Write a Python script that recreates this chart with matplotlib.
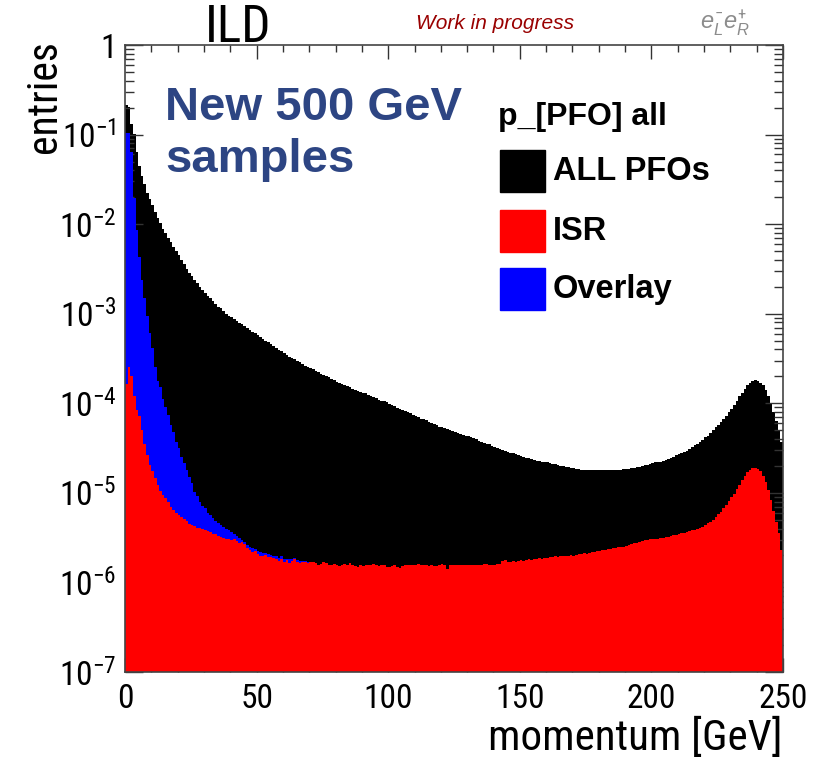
import numpy as np
import matplotlib
matplotlib.use("Agg")
import matplotlib.pyplot as plt
from matplotlib import font_manager
from matplotlib.patches import Rectangle
from matplotlib.ticker import FixedLocator, FuncFormatter, LogLocator, NullFormatter

# momentum binning: 250 bins of 1 GeV
edges = np.arange(0, 251, 1)

# log10(entries) per bin, all PFOs
all_pfo_log = [
    -0.67, -0.69, -0.88, -0.99, -1.19, -1.35, -1.46, -1.55, -1.65, -1.72,
    -1.79, -1.86, -1.93, -1.99, -2.05, -2.10, -2.15, -2.20, -2.25, -2.30,
    -2.35, -2.40, -2.45, -2.50, -2.54, -2.58, -2.62, -2.66, -2.70, -2.73,
    -2.77, -2.80, -2.83, -2.86, -2.89, -2.92, -2.94, -2.97, -3.00, -3.02,
    -3.04, -3.06, -3.08, -3.10, -3.12, -3.14, -3.16, -3.18, -3.20, -3.22,
    -3.24, -3.26, -3.28, -3.30, -3.32, -3.34, -3.36, -3.38, -3.40, -3.42,
    -3.44, -3.46, -3.48, -3.49, -3.51, -3.53, -3.54, -3.56, -3.58, -3.59,
    -3.61, -3.62, -3.64, -3.65, -3.67, -3.68, -3.70, -3.71, -3.73, -3.74,
    -3.76, -3.77, -3.79, -3.80, -3.81, -3.82, -3.84, -3.85, -3.86, -3.87,
    -3.88, -3.89, -3.91, -3.92, -3.93, -3.94, -3.96, -3.97, -3.98, -3.99,
    -4.01, -4.02, -4.03, -4.05, -4.06, -4.07, -4.09, -4.10, -4.11, -4.13,
    -4.14, -4.15, -4.17, -4.18, -4.19, -4.21, -4.22, -4.23, -4.24, -4.26,
    -4.27, -4.28, -4.29, -4.30, -4.31, -4.32, -4.33, -4.34, -4.35, -4.36,
    -4.37, -4.38, -4.39, -4.40, -4.42, -4.43, -4.44, -4.45, -4.46, -4.48,
    -4.49, -4.50, -4.51, -4.52, -4.53, -4.54, -4.55, -4.56, -4.57, -4.58,
    -4.59, -4.60, -4.61, -4.61, -4.62, -4.63, -4.64, -4.64, -4.65, -4.66,
    -4.66, -4.67, -4.68, -4.68, -4.69, -4.70, -4.70, -4.71, -4.71, -4.72,
    -4.72, -4.73, -4.73, -4.74, -4.74, -4.74, -4.75, -4.75, -4.75, -4.75,
    -4.75, -4.75, -4.75, -4.75, -4.74, -4.75, -4.74, -4.74, -4.74, -4.73,
    -4.73, -4.73, -4.72, -4.72, -4.71, -4.71, -4.70, -4.69, -4.69, -4.68,
    -4.67, -4.66, -4.66, -4.65, -4.64, -4.63, -4.62, -4.61, -4.60, -4.58,
    -4.57, -4.56, -4.54, -4.53, -4.51, -4.49, -4.47, -4.45, -4.43, -4.41,
    -4.38, -4.36, -4.33, -4.30, -4.27, -4.24, -4.21, -4.17, -4.14, -4.10,
    -4.06, -4.02, -3.97, -3.92, -3.88, -3.84, -3.80, -3.77, -3.75, -3.74,
    -3.75, -3.77, -3.80, -3.85, -3.92, -4.00, -4.10, -4.20, -4.31, -4.43,
]

# overlay only matters at low momentum, above that it sits under the ISR fill
overlay_log = [
    -0.98, -0.98, -1.19, -1.71, -2.06, -2.37, -2.62, -2.83, -3.02, -3.21,
    -3.38, -3.60, -3.75, -3.82, -3.95, -4.04, -4.13, -4.24, -4.32, -4.43,
    -4.50, -4.60, -4.67, -4.74, -4.82, -4.89, -4.99, -5.04, -5.10, -5.15,
    -5.17, -5.22, -5.25, -5.28, -5.31, -5.34, -5.36, -5.38, -5.40, -5.42,
    -5.44, -5.46, -5.48, -5.50, -5.53, -5.55, -5.58, -5.60, -5.62, -5.63,
    -5.65, -5.66, -5.67, -5.67, -5.68, -5.69, -5.70, -5.71, -5.73, -5.71,
    -5.74, -5.74, -5.74, -5.74, -5.73, -5.75, -5.76, -5.76, -5.76, -5.77,
]

isr_log = [
    -3.79, -3.60, -3.70, -3.92, -4.08, -4.14, -4.30, -4.46, -4.58, -4.69,
    -4.76, -4.83, -4.91, -4.98, -5.02, -5.06, -5.10, -5.16, -5.19, -5.23,
    -5.25, -5.27, -5.29, -5.31, -5.35, -5.36, -5.37, -5.39, -5.39, -5.40,
    -5.42, -5.43, -5.44, -5.46, -5.46, -5.48, -5.49, -5.50, -5.51, -5.52,
    -5.53, -5.52, -5.54, -5.56, -5.55, -5.57, -5.62, -5.64, -5.66, -5.65,
    -5.68, -5.70, -5.71, -5.69, -5.72, -5.72, -5.73, -5.74, -5.76, -5.74,
    -5.77, -5.75, -5.78, -5.76, -5.74, -5.77, -5.78, -5.77, -5.77, -5.78,
    -5.77, -5.77, -5.78, -5.80, -5.79, -5.77, -5.78, -5.80, -5.81, -5.79,
    -5.80, -5.82, -5.80, -5.79, -5.81, -5.78, -5.80, -5.82, -5.83, -5.81,
    -5.82, -5.80, -5.81, -5.80, -5.79, -5.81, -5.82, -5.80, -5.81, -5.83,
    -5.83, -5.82, -5.81, -5.83, -5.84, -5.82, -5.81, -5.80, -5.81, -5.80,
    -5.80, -5.79, -5.81, -5.80, -5.81, -5.82, -5.81, -5.82, -5.82, -5.80,
    -5.79, -5.80, -5.85, -5.80, -5.80, -5.80, -5.80, -5.80, -5.80, -5.81,
    -5.81, -5.80, -5.80, -5.81, -5.80, -5.80, -5.79, -5.79, -5.80, -5.80,
    -5.80, -5.79, -5.79, -5.76, -5.75, -5.77, -5.77, -5.76, -5.77, -5.76,
    -5.75, -5.76, -5.75, -5.74, -5.75, -5.74, -5.74, -5.73, -5.74, -5.73,
    -5.73, -5.72, -5.72, -5.71, -5.72, -5.71, -5.70, -5.71, -5.70, -5.69,
    -5.70, -5.69, -5.68, -5.68, -5.67, -5.68, -5.67, -5.66, -5.66, -5.65,
    -5.65, -5.64, -5.64, -5.63, -5.63, -5.62, -5.62, -5.61, -5.60, -5.60,
    -5.59, -5.58, -5.57, -5.56, -5.56, -5.55, -5.54, -5.53, -5.53, -5.52,
    -5.52, -5.51, -5.51, -5.50, -5.50, -5.49, -5.49, -5.48, -5.47, -5.47,
    -5.46, -5.45, -5.45, -5.44, -5.43, -5.42, -5.41, -5.40, -5.39, -5.38,
    -5.36, -5.34, -5.32, -5.30, -5.27, -5.24, -5.21, -5.17, -5.13, -5.09,
    -5.05, -5.01, -4.96, -4.91, -4.86, -4.81, -4.77, -4.74, -4.72, -4.72,
    -4.73, -4.76, -4.81, -4.88, -4.97, -5.08, -5.20, -5.32, -5.45, -5.64,
]

y_ticks = [1e-7, 1e-6, 1e-5, 1e-4, 1e-3, 1e-2, 1e-1, 1]
x_ticks = [0, 50, 100, 150, 200, 250]

# prefer a condensed face for the axis text if one is around
installed = {f.name for f in font_manager.fontManager.ttflist}
narrow = [n for n in ("Liberation Sans Narrow", "DejaVu Sans Condensed", "Roboto Condensed",
                      "Open Sans Condensed") if n in installed]
FONT = narrow + ["Liberation Sans", "DejaVu Sans"]
WIDE = ["Liberation Sans", "DejaVu Sans"]
plt.rcParams["font.family"] = FONT
plt.rcParams["mathtext.fontset"] = "custom"
plt.rcParams["mathtext.rm"] = FONT[0]
plt.rcParams["mathtext.it"] = "Liberation Sans:italic"
plt.rcParams["mathtext.default"] = "regular"
have_narrow = bool(narrow)
tick_size = 24 if have_narrow else 20

fig = plt.figure(figsize=(8.18, 7.6), dpi=100)
ax = fig.add_axes([125 / 818, 88 / 760, 658 / 818, 627 / 760])

base = 1e-9
ax.stairs(10 ** np.array(all_pfo_log), edges, fill=True, color="black", baseline=base, zorder=1)
ax.stairs(10 ** np.array(overlay_log), edges[:len(overlay_log) + 1], fill=True, color="#0000ff",
          baseline=base, zorder=2)
ax.stairs(10 ** np.array(isr_log), edges, fill=True, color="#ff0000", baseline=base, zorder=3)

ax.set_yscale("log")
ax.set_xlim(0, 250)
ax.set_ylim(1e-7, 1)

ax.yaxis.set_major_locator(FixedLocator(y_ticks))
ax.yaxis.set_minor_locator(LogLocator(base=10, subs=np.arange(2, 10)))
ax.yaxis.set_minor_formatter(NullFormatter())


def dec_label(v, pos):
    k = int(round(np.log10(v)))
    return "1" if k == 0 else r"$10^{%d}$" % k


ax.yaxis.set_major_formatter(FuncFormatter(dec_label))
ax.xaxis.set_major_locator(FixedLocator(x_ticks))
ax.xaxis.set_minor_locator(FixedLocator(np.arange(0, 251, 10)))

ax.tick_params(which="both", direction="in", top=True, right=True, colors="#333333",
               labelcolor="black", labelsize=tick_size, width=1.0)
ax.tick_params(axis="y", which="major", length=13, pad=6)
ax.tick_params(axis="y", which="minor", length=6.5)
ax.tick_params(axis="x", which="major", length=10, pad=8)
ax.tick_params(axis="x", which="minor", length=5)
for s in ax.spines.values():
    s.set_color("#444444")
    s.set_linewidth(1.2)
    s.set_zorder(5)

# header
fig.text(238 / 818, 1 - 42 / 760, "ILD", ha="center", va="baseline", fontsize=37)
fig.text(495 / 818, 1 - 29 / 760, "Work in progress", ha="center", va="baseline",
         fontsize=15, style="italic", color="#990000", family=WIDE)
fig.text(725 / 818, 1 - 29 / 760, r"$\mathit{e^{-}_{L}e^{+}_{R}}$", ha="center", va="baseline",
         fontsize=17, color="#8c8c8c")

fig.text(45 / 818, 1 - 40 / 760, "entries", rotation=90, ha="center", va="top",
         fontsize=30 if have_narrow else 27)
fig.text(783 / 818, 1 - 738 / 760, "momentum [GeV]", ha="right", va="center",
         fontsize=31 if have_narrow else 26)

# sample label
ax.text(0.061, 0.900, "New 500 GeV", transform=ax.transAxes, fontsize=34, fontweight="bold",
        color="#2d4583", family=WIDE, va="center")
ax.text(0.061, 0.817, "samples", transform=ax.transAxes, fontsize=34, fontweight="bold",
        color="#2d4583", family=WIDE, va="center")

# legend
ax.text(0.567, 0.885, "p_[PFO] all", transform=ax.transAxes, fontsize=23, fontweight="bold",
        family=WIDE, va="center", zorder=6)
legend_rows = [("black", "ALL PFOs", 0.766), ("#ff0000", "ISR", 0.670), ("#0000ff", "Overlay", 0.577)]
for col, lab, y0 in legend_rows:
    ax.add_patch(Rectangle((0.570, y0), 0.068, 0.067, transform=ax.transAxes, color=col,
                           zorder=6, clip_on=False))
    ax.text(0.650, y0 + 0.033, lab, transform=ax.transAxes, fontsize=23.5, fontweight="bold",
            family=WIDE, va="center", zorder=6)

fig.savefig("out.png", dpi=100)
